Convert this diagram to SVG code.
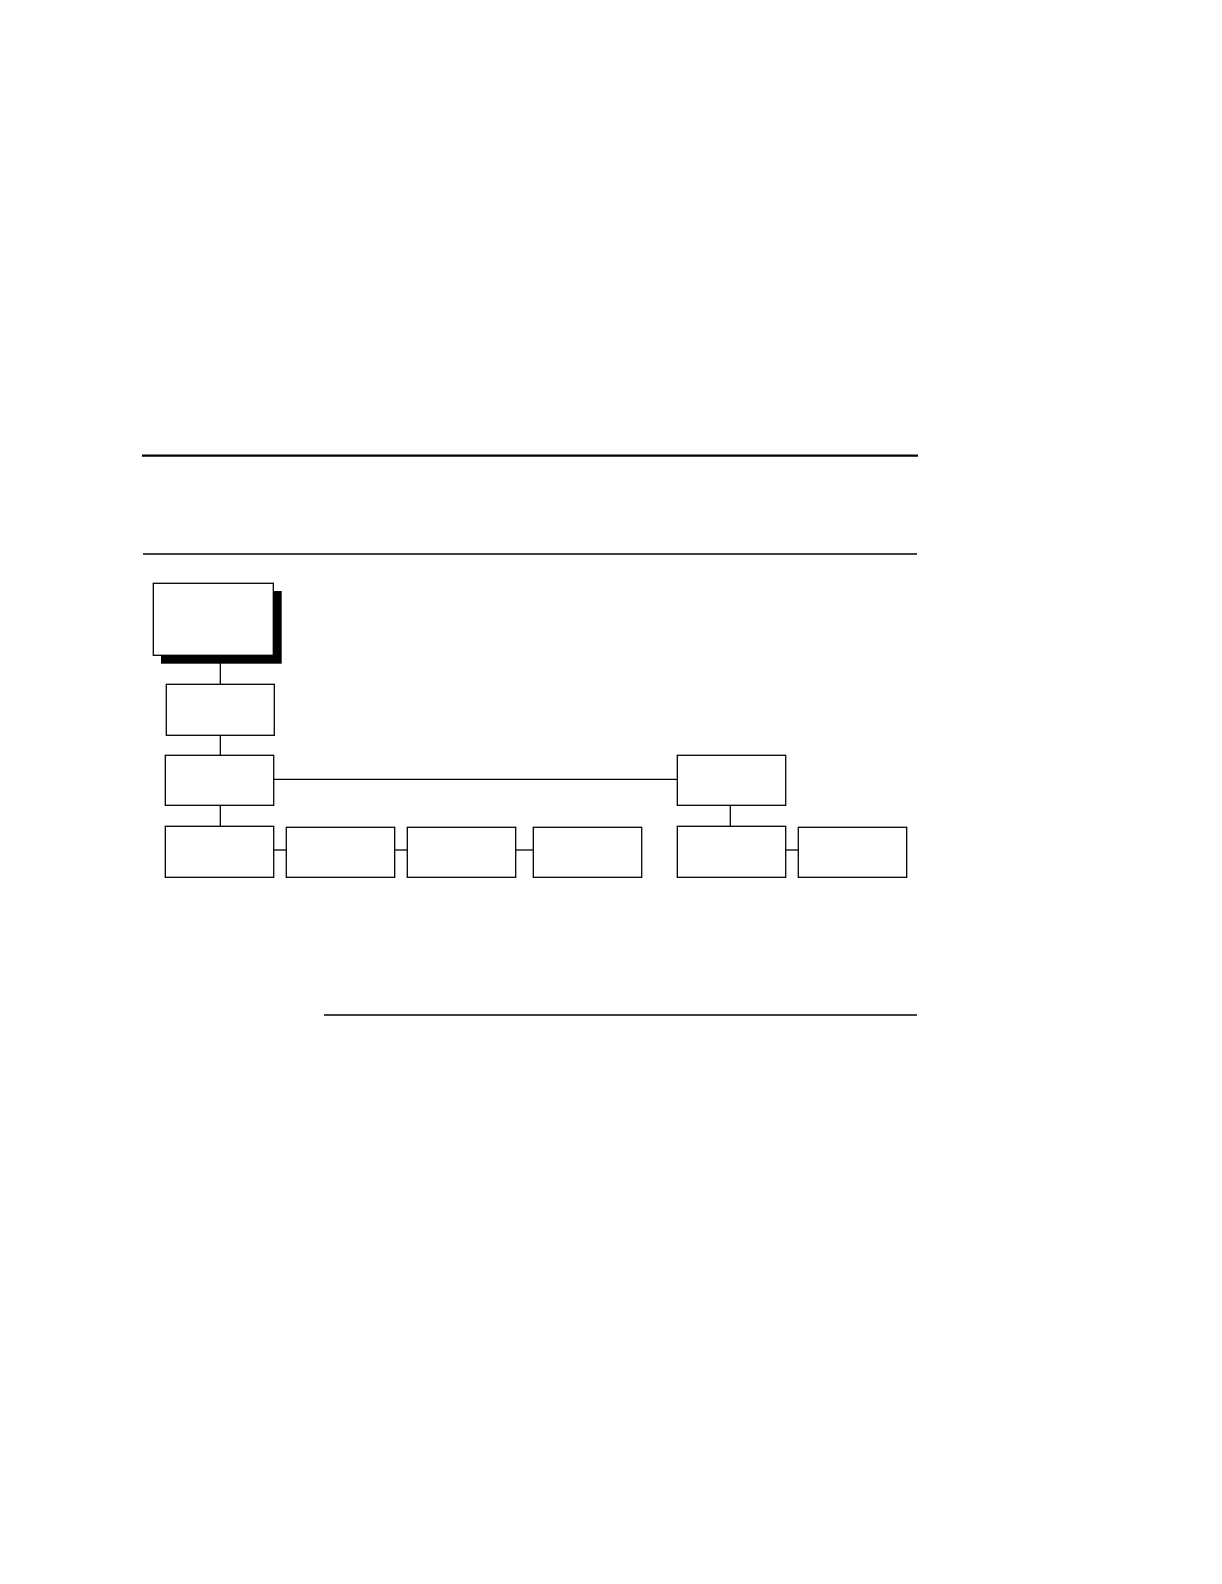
<svg xmlns="http://www.w3.org/2000/svg" width="1222" height="1584" viewBox="0 0 1222 1584">
<style>
.box{fill:#fff;stroke:#000;stroke-width:1.3}
.ln{stroke:#000;stroke-width:1.3;fill:none}
</style>
<rect width="1222" height="1584" fill="#fff"/>
<g id="rules">
<line x1="142" y1="455.7" x2="918" y2="455.7" stroke="#000" stroke-width="2.2"/>
<line x1="143" y1="554" x2="917" y2="554" class="ln"/>
<line x1="324" y1="1015" x2="917" y2="1015" class="ln"/>
</g>
<g id="connectors">
<line x1="220.3" y1="655" x2="220.3" y2="684.3" class="ln"/>
<line x1="220.3" y1="735.3" x2="220.3" y2="755.3" class="ln"/>
<line x1="220.3" y1="805.3" x2="220.3" y2="826.3" class="ln"/>
<line x1="273.7" y1="779.3" x2="677.3" y2="779.3" class="ln"/>
<line x1="730.3" y1="805.3" x2="730.3" y2="826.3" class="ln"/>
<line x1="273.7" y1="850" x2="286.3" y2="850" class="ln"/>
<line x1="394.7" y1="850" x2="407.3" y2="850" class="ln"/>
<line x1="515.7" y1="850" x2="533.3" y2="850" class="ln"/>
<line x1="785.7" y1="850" x2="798.3" y2="850" class="ln"/>
</g>
<g id="node-main">
<rect x="161" y="591" width="120.7" height="72.7" fill="#000"/>
<rect x="153.3" y="583.3" width="120" height="72" class="box"/>
</g>
<g id="node-2"><rect x="166.3" y="684.3" width="108" height="51" class="box"/></g>
<g id="node-3"><rect x="165.3" y="755.3" width="108.4" height="50" class="box"/></g>
<g id="node-4"><rect x="165.3" y="826.3" width="108.4" height="51" class="box"/></g>
<g id="node-5"><rect x="286.3" y="827.3" width="108.4" height="50" class="box"/></g>
<g id="node-6"><rect x="407.3" y="827.3" width="108.4" height="50" class="box"/></g>
<g id="node-7"><rect x="533.3" y="827.3" width="108.4" height="50" class="box"/></g>
<g id="node-r1"><rect x="677.3" y="755.3" width="108.4" height="50" class="box"/></g>
<g id="node-r2"><rect x="677.3" y="826.3" width="108.4" height="51" class="box"/></g>
<g id="node-r3"><rect x="798.3" y="827.3" width="108.4" height="50" class="box"/></g>
</svg>
